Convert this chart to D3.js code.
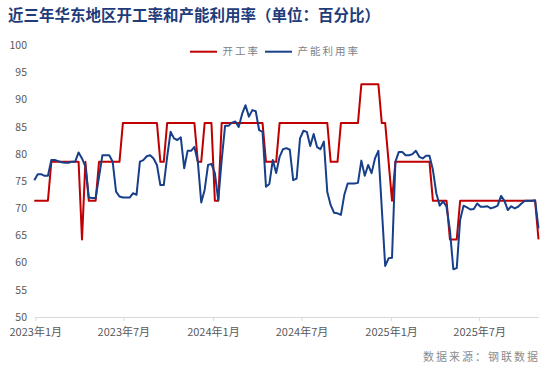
<!DOCTYPE html>
<html>
<head>
<meta charset="utf-8">
<script src="https://cdn.jsdelivr.net/npm/d3@7"></script>
<style>
  body { margin: 0; background: #fff; }
  svg { display: block; }
</style>
</head>
<body>
<div id="chart"></div>
<script>
const title = '近三年华东地区开工率和产能利用率（单位：百分比）';
const seriesNames = ['开工率', '产能利用率'];
const sourceText = '数据来源：钢联数据';
const firstWeek = new Date(2022, 11, 30);   // weekly data, Fridays
const yTicks = [50, 55, 60, 65, 70, 75, 80, 85, 90, 95, 100];

// 开工率 (operating rate), weekly
const operatingRate = [
  71.43, 71.43, 71.43, 71.43, 71.43, 78.57, 78.57, 78.57, 78.57, 78.57,
  78.57, 78.57, 78.57, 78.57, 64.29, 78.57, 71.43, 71.43, 71.43, 78.57,
  78.57, 78.57, 78.57, 78.57, 78.57, 78.57, 85.71, 85.71, 85.71, 85.71,
  85.71, 85.71, 85.71, 85.71, 85.71, 85.71, 85.71, 78.57, 78.57, 85.71,
  85.71, 85.71, 85.71, 85.71, 85.71, 85.71, 85.71, 85.71, 78.57, 78.57,
  85.71, 85.71, 85.71, 71.43, 71.43, 85.71, 85.71, 85.71, 85.71, 85.71,
  85.71, 85.71, 85.71, 85.71, 85.71, 85.71, 85.71, 85.71, 78.57, 78.57,
  78.57, 78.57, 85.71, 85.71, 85.71, 85.71, 85.71, 85.71, 85.71, 85.71,
  85.71, 85.71, 85.71, 85.71, 85.71, 85.71, 85.71, 78.57, 78.57, 78.57,
  85.71, 85.71, 85.71, 85.71, 85.71, 85.71, 92.86, 92.86, 92.86, 92.86,
  92.86, 92.86, 85.71, 85.71, 78.57, 71.43, 78.57, 78.57, 78.57, 78.57,
  78.57, 78.57, 78.57, 78.57, 78.57, 78.57, 78.57, 71.43, 71.43, 71.43,
  71.43, 71.43, 64.29, 64.29, 64.29, 71.43, 71.43, 71.43, 71.43, 71.43,
  71.43, 71.43, 71.43, 71.43, 71.43, 71.43, 71.43, 71.43, 71.43, 71.43,
  71.43, 71.43, 71.43, 71.43, 71.43, 71.43, 71.43, 71.43, 64.29
];

// 产能利用率 (capacity utilization), weekly
const utilization = [
  75.2, 76.3, 76.3, 76.0, 76.0, 78.9, 78.9, 78.7, 78.5, 78.4,
  78.4, 78.6, 78.6, 80.3, 79.2, 77.7, 72.0, 71.9, 71.9, 75.8,
  79.8, 79.8, 79.8, 78.6, 73.1, 72.2, 72.0, 72.0, 72.0, 72.8,
  72.5, 78.6, 78.9, 79.6, 79.8, 79.2, 78.0, 74.3, 74.3, 79.5,
  84.1, 82.9, 82.6, 83.1, 77.4, 80.6, 80.6, 81.3, 78.6, 71.1,
  73.4, 78.0, 78.2, 76.5, 71.5, 78.9, 85.2, 85.2, 85.8, 86.0,
  85.0, 87.4, 89.0, 86.9, 88.1, 87.9, 84.4, 84.1, 74.0, 74.5,
  78.9, 76.5, 79.5, 80.9, 81.1, 80.8, 75.2, 75.5, 82.9, 84.3,
  84.1, 81.5, 83.7, 81.3, 80.9, 82.3, 73.0, 70.6, 69.2, 69.1,
  68.8, 72.5, 74.6, 74.6, 74.6, 74.7, 78.8, 76.0, 78.0, 76.5,
  79.2, 80.6, 70.0, 59.4, 60.8, 60.9, 78.6, 80.4, 80.4, 79.8,
  79.8, 80.0, 80.6, 79.5, 79.2, 79.7, 79.7, 77.1, 72.8, 70.5,
  71.3, 70.3, 66.0, 58.8, 59.0, 67.9, 70.5, 70.2, 69.8, 69.9,
  70.9, 70.3, 70.3, 70.4, 70.0, 70.2, 70.5, 72.3, 71.4, 69.7,
  70.4, 70.0, 70.3, 70.9, 71.4, 71.4, 71.4, 71.5, 66.3
];

const colors = ['#c00000', '#173f8a'];

let width = 554;
let height = 377;
let margin = {top: 45.5, right: 15.5, bottom: 60, left: 34.3};

let dates = operatingRate.map((d, i) => d3.timeDay.offset(firstWeek, i * 7));

let svg = d3.select('#chart')
  .append('svg')
  .attr('width', width)
  .attr('height', height);

let x = d3.scaleTime()
  .domain([dates[0], dates[dates.length - 1]])
  .range([margin.left, width - margin.right]);

let y = d3.scaleLinear()
  .domain([50, 100])
  .range([height - margin.bottom, margin.top]);

// title
svg.append('text')
  .attr('x', 8)
  .attr('y', 20.5)
  .attr('font-family', '"Noto Sans CJK SC", sans-serif')
  .attr('font-size', '15.5px')
  .attr('font-weight', 'bold')
  .attr('fill', '#1f3c7a')
  .text(title);

// y labels (no axis line)
svg.append('g')
  .selectAll('text')
  .data(yTicks)
  .enter()
  .append('text')
  .attr('x', 27)
  .attr('y', d => y(d))
  .attr('dy', '0.35em')
  .attr('text-anchor', 'end')
  .attr('font-family', '"Noto Sans CJK SC", sans-serif')
  .attr('font-size', '10.5px')
  .attr('fill', '#595959')
  .text(d => d);

// x axis
let xAxis = d3.axisBottom(x)
  .tickValues(d3.timeMonth.every(6).range(dates[0], dates[dates.length - 1]))
  .tickSize(4)
  .tickSizeOuter(0)
  .tickPadding(7)
  .tickFormat(d => d.getFullYear() + '年' + (d.getMonth() + 1) + '月');

let gx = svg.append('g')
  .attr('transform', `translate(0,${height - margin.bottom})`)
  .call(xAxis);

gx.select('.domain').attr('stroke', '#d9d9d9');
gx.selectAll('.tick line').attr('stroke', '#d9d9d9');
gx.selectAll('.tick text')
  .attr('font-family', '"Noto Sans CJK SC", sans-serif')
  .attr('font-size', '11px')
  .attr('fill', '#595959');

// the two lines, blue on top
let series = [operatingRate, utilization];
series.forEach((values, k) => {
  let line = d3.line()
    .x((d, i) => x(dates[i]))
    .y(d => y(d));

  svg.append('path')
    .datum(values)
    .attr('fill', 'none')
    .attr('stroke', colors[k])
    .attr('stroke-width', 2)
    .attr('stroke-linejoin', 'round')
    .attr('d', line);
});

// legend
let legendX = [190, 265];
seriesNames.forEach((name, k) => {
  let g = svg.append('g').attr('transform', `translate(${legendX[k]},51.7)`);
  g.append('line')
    .attr('x1', 0)
    .attr('x2', 27)
    .attr('stroke', colors[k])
    .attr('stroke-width', 2);
  g.append('text')
    .attr('x', 32.5)
    .attr('dy', '0.35em')
    .attr('font-family', '"Noto Sans CJK SC", sans-serif')
    .attr('font-size', '10.5px')
    .attr('letter-spacing', '2px')
    .attr('fill', '#7f7f7f')
    .text(name);
});

// source
svg.append('text')
  .attr('x', 540)
  .attr('y', 361)
  .attr('text-anchor', 'end')
  .attr('font-family', '"Noto Sans CJK SC", sans-serif')
  .attr('font-size', '11px')
  .attr('letter-spacing', '2px')
  .attr('fill', '#8c8c8c')
  .text(sourceText);
</script>
</body>
</html>
